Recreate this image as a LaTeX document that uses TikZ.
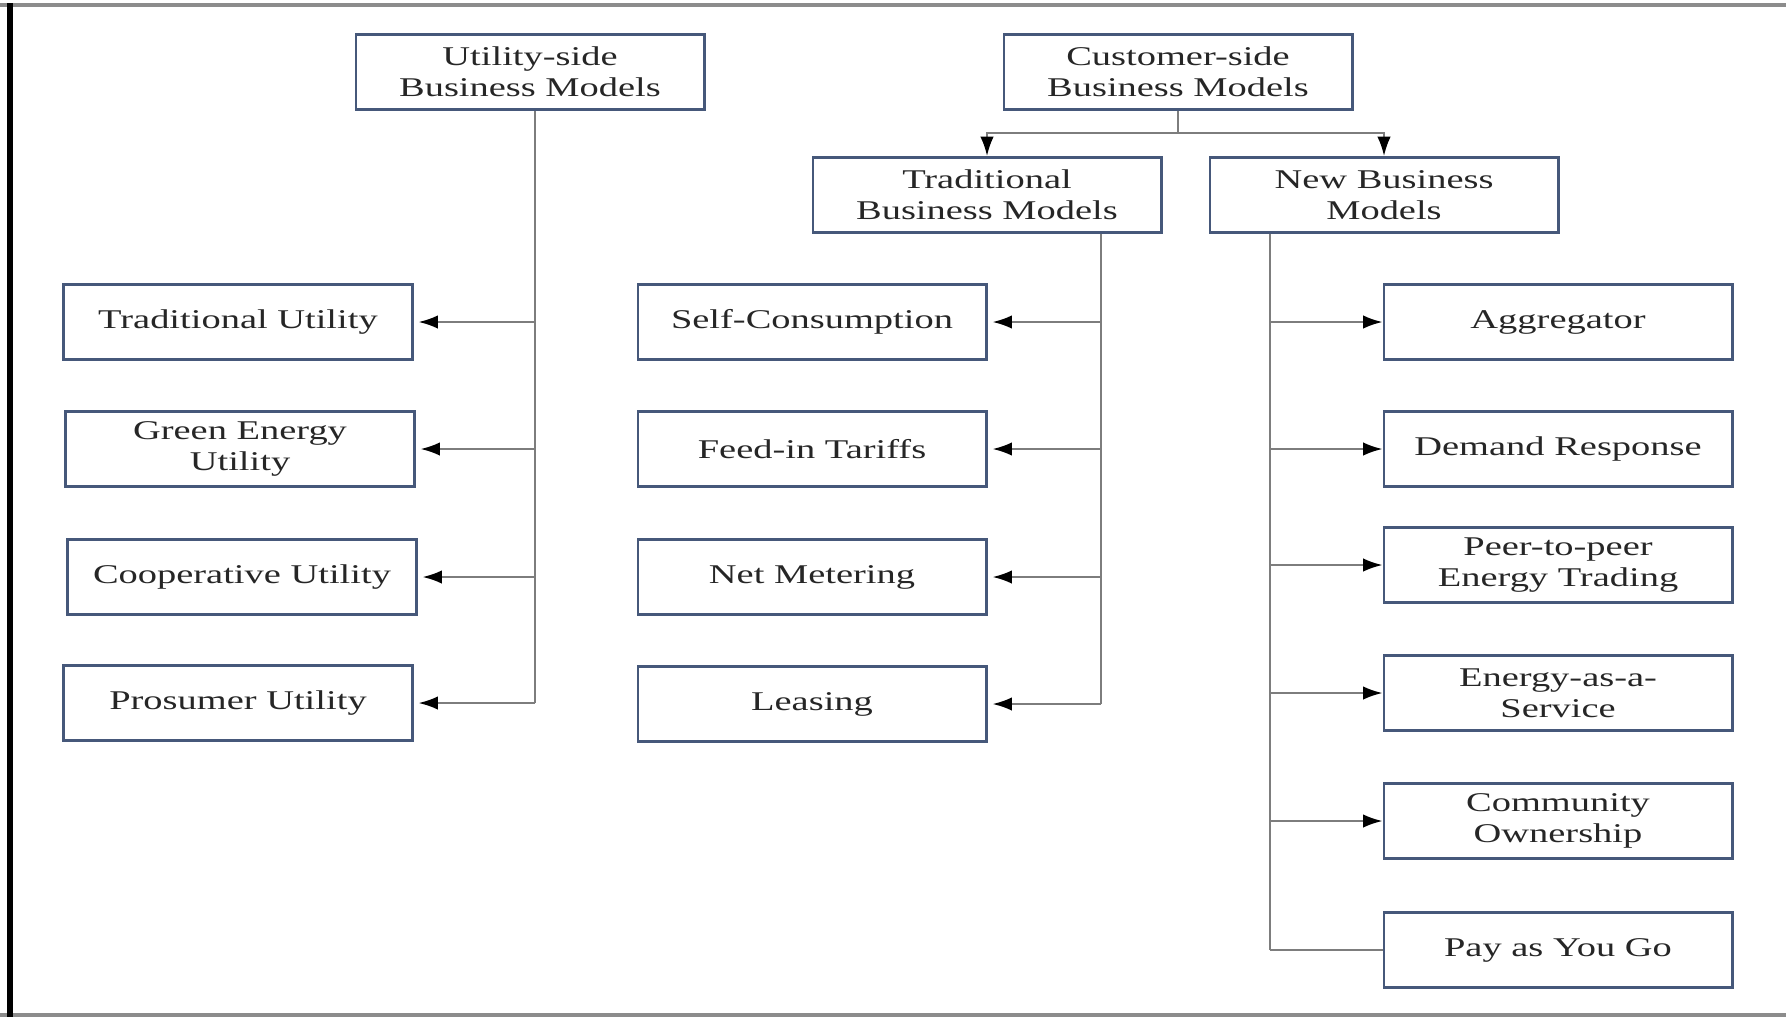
\documentclass[tikz,border=0pt]{standalone}
\usepackage{fontspec}
\setmainfont{Liberation Serif}[FakeStretch=1.42]
\usetikzlibrary{arrows.meta,calc}
\definecolor{boxblue}{RGB}{70,88,122}
\definecolor{linegray}{RGB}{125,125,125}
\tikzset{
	model/.style={draw=boxblue, line width=0.8pt, minimum width=3.48cm, minimum height=0.75cm, inner sep=0pt, align=center, font=\fontsize{7.7}{8.9}\selectfont, text=black!85},
	link/.style={draw=linegray, line width=0.6pt},
	arrowlink/.style={link, -{Latex[length=5.5pt,width=3.8pt,color=black]}},
}

\begin{document}
\begin{tikzpicture}[x=0.01cm,y=-0.01cm]
		%%%%% START %%%%%
		\useasboundingbox (0,0) rectangle (1786,1018);
		
		\draw[line width=0.9pt, color=black!45] (0,5) -- (1786,5);
		\draw[line width=0.9pt, color=black!45] (0,1015) -- (1786,1015);
		\draw[line width=1.7pt] (10,3) -- (10,1017);
		
		\node[model] (usb) at (530,72) {Utility-side\\Business Models};
		\node[model] (csb) at (1178,72) {Customer-side\\Business Models};
		\node[model] (tbm) at (987,195) {Traditional\\Business Models};
		\node[model] (nbm) at (1384,195) {New Business\\Models};
		
		\node[model] (tradu) at (238,322) {Traditional Utility};
		\node[model] (green) at (240,449) {Green Energy\\Utility};
		\node[model] (coop) at (242,577) {Cooperative Utility};
		\node[model] (pros) at (238,703) {Prosumer Utility};
		
		\node[model] (self) at (812,322) {Self-Consumption};
		\node[model] (fit) at (812,449) {Feed-in Tariffs};
		\node[model] (netm) at (812,577) {Net Metering};
		\node[model] (lease) at (812,704) {Leasing};
		
		\node[model] (aggr) at (1558,322) {Aggregator};
		\node[model] (dresp) at (1558,449) {Demand Response};
		\node[model] (ptop) at (1558,565) {Peer-to-peer\\Energy Trading};
		\node[model] (eaas) at (1558,693) {Energy-as-a-\\Service};
		\node[model] (comm) at (1558,821) {Community\\Ownership};
		\node[model] (payg) at (1558,950) {Pay as You Go};
		
		% utility side
		\coordinate (utrunk) at (535,0);
		\draw[link] (usb.south -| utrunk) -- (utrunk |- pros.east);
		\foreach \n in {tradu,green,coop,pros}
			\draw[arrowlink, shorten >=0.05cm] (utrunk |- \n.east) -- (\n.east);
		
		% customer side
		\coordinate (cfork) at (1178,133);
		\draw[link] (csb.south) -- (cfork);
		\draw[arrowlink] (cfork) -| (tbm.north);
		\draw[arrowlink] (cfork) -| (nbm.north);
		
		\coordinate (ttrunk) at (1101,0);
		\draw[link] (tbm.south -| ttrunk) -- (ttrunk |- lease.east);
		\foreach \n in {self,fit,netm,lease}
			\draw[arrowlink, shorten >=0.05cm] (ttrunk |- \n.east) -- (\n.east);
		
		\coordinate (ntrunk) at (1270,0);
		\draw[link] (nbm.south -| ntrunk) -- (ntrunk |- payg.west);
		\foreach \n in {aggr,dresp,ptop,eaas,comm}
			\draw[arrowlink] (ntrunk |- \n.west) -- (\n.west);
		\draw[link] (ntrunk |- payg.west) -- (payg.west);
		
		%%%%% END %%%%%
\end{tikzpicture}
\end{document}
